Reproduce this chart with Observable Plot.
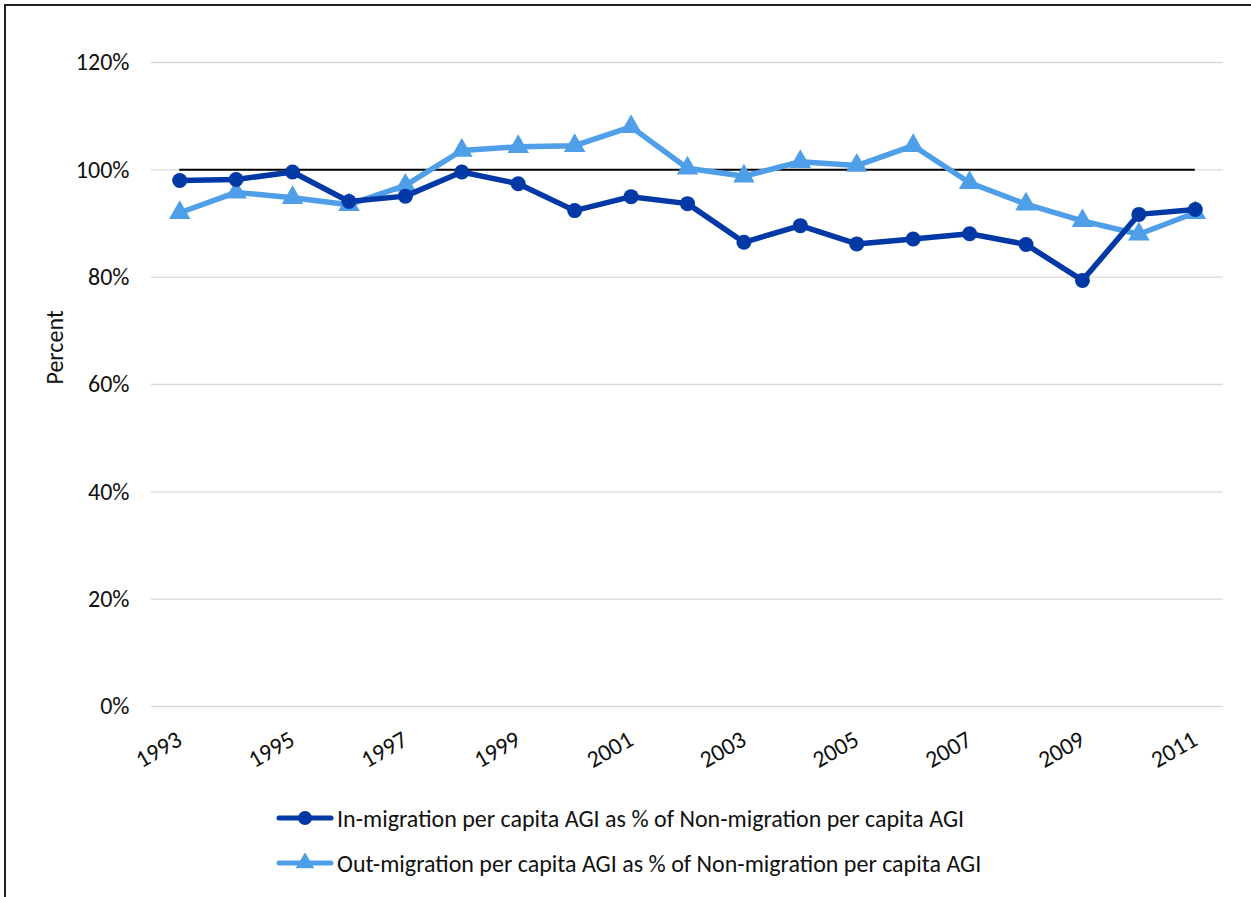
<!DOCTYPE html>
<html>
<head>
<meta charset="utf-8">
<script src="https://cdn.jsdelivr.net/npm/d3@7"></script>
<script src="https://cdn.jsdelivr.net/npm/@observablehq/plot@0.6"></script>
<style>
  html, body { margin: 0; padding: 0; background: #fff; }
  body { width: 1251px; height: 897px; overflow: hidden; position: relative; font-family: Carlito, Lato, "Open Sans", sans-serif; }
  #frame { position: absolute; left: 4px; top: 4px; width: 1260px; height: 920px; border-top: 2px solid #222; border-left: 2px solid #222; box-sizing: border-box; }
  #chart { position: absolute; left: 0; top: 0; }
  #legend { position: absolute; left: 276px; top: 800px; font-size: 24px; color: #111; }
  .item { display: flex; align-items: center; height: 36px; margin-bottom: 9px; }
  .item svg { margin-right: 3px; }
</style>
</head>
<body>
<div id="frame"></div>
<div id="chart"></div>
<div id="legend"></div>
<script>
const years = [1993,1994,1995,1996,1997,1998,1999,2000,2001,2002,2003,2004,2005,2006,2007,2008,2009,2010,2011];
const inMigration = [98.0,98.2,99.6,94.1,95.1,99.6,97.4,92.4,95.0,93.7,86.5,89.6,86.2,87.1,88.1,86.1,79.4,91.7,92.6];
const outMigration = [92.0,95.8,94.8,93.5,97.1,103.6,104.3,104.5,108.0,100.3,98.8,101.5,100.8,104.5,97.6,93.6,90.5,88.0,92.0];
const seriesNames = [
  "In-migration per capita AGI as % of Non-migration per capita AGI",
  "Out-migration per capita AGI as % of Non-migration per capita AGI"
];
const yTicks = [0, 20, 40, 60, 80, 100, 120];
const xTicks = [1993,1995,1997,1999,2001,2003,2005,2007,2009,2011];
const colors = ["#0039a6", "#4f9fe8"];

const inData = years.map((y, i) => ({year: y, value: inMigration[i] / 100}));
const outData = years.map((y, i) => ({year: y, value: outMigration[i] / 100}));

const chart = Plot.plot({
  width: 1251,
  height: 780,
  marginTop: 62,
  marginBottom: 74,
  marginLeft: 151,
  marginRight: 28,
  style: {fontFamily: "Carlito, Lato, 'Open Sans', sans-serif", fontSize: "24px", color: "#111", background: "transparent"},
  x: {domain: [1992.5, 2011.5]},
  y: {domain: [0, 1.2]},
  marks: [
    Plot.ruleY(yTicks.map(d => d / 100), {stroke: "#d9d9d9", strokeWidth: 1.3}),
    Plot.axisY({ticks: yTicks.map(d => d / 100), tickFormat: d => Math.round(d * 100) + "%", tickSize: 0, tickPadding: 22, label: null, fontSize: "24px"}),
    Plot.text(["Percent"], {frameAnchor: "left", dx: -96, rotate: -90, fontSize: "24px"}),
    Plot.axisX({ticks: xTicks, tickFormat: d => String(d), tickSize: 0, tickRotate: -30, tickPadding: 31, label: null, fontSize: "24px"}),
    Plot.ruleY([1], {x1: years[0], x2: years[years.length - 1], stroke: "#000", strokeWidth: 2}),
    Plot.line(outData, {x: "year", y: "value", stroke: colors[1], strokeWidth: 5.5}),
    Plot.dot(outData, {x: "year", y: "value", fill: colors[1], symbol: "triangle", r: 8}),
    Plot.line(inData, {x: "year", y: "value", stroke: colors[0], strokeWidth: 5.5}),
    Plot.dot(inData, {x: "year", y: "value", fill: colors[0], symbol: "circle", r: 7.5})
  ]
});
document.getElementById("chart").appendChild(chart);

const legend = document.getElementById("legend");
seriesNames.forEach((name, i) => {
  const item = document.createElement("div");
  item.className = "item";
  const sw = d3.create("svg").attr("width", 58).attr("height", 20);
  sw.append("line").attr("x1", 3).attr("x2", 55).attr("y1", 10).attr("y2", 10)
    .attr("stroke", colors[i]).attr("stroke-width", 5).attr("stroke-linecap", "round");
  const sym = i === 0 ? d3.symbolCircle : d3.symbolTriangle;
  const size = i === 0 ? Math.PI * 7 * 7 : 150;
  sw.append("path").attr("d", d3.symbol(sym, size)()).attr("transform", "translate(29,10)").attr("fill", colors[i]);
  item.appendChild(sw.node());
  const t = document.createElement("span");
  t.textContent = name;
  item.appendChild(t);
  legend.appendChild(item);
});
</script>
</body>
</html>
